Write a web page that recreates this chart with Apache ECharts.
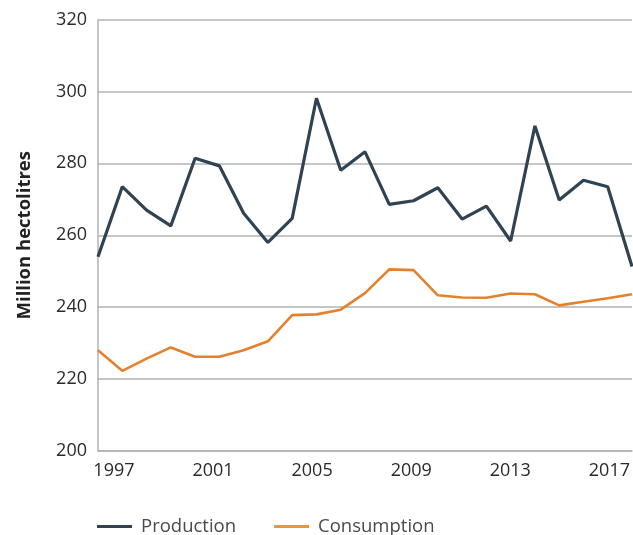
<!DOCTYPE html>
<html>
<head>
<meta charset="utf-8">
<title>Production and consumption</title>
<script src="https://cdn.jsdelivr.net/npm/echarts@6/dist/echarts.min.js"></script>
<style>
  html, body { margin: 0; padding: 0; background: #fff; }
  #chart { width: 633px; height: 535px; }
</style>
</head>
<body>
<div id="chart"></div>
<script>
// years of the data points (first point sits on the y axis)
const years = ['1995', '1996', '1997', '1998', '1999', '2000', '2001', '2002', '2003', '2004', '2005', '2006',
  '2007', '2008', '2009', '2010', '2011', '2012', '2013', '2014', '2015', '2016', '2017']

// million hectolitres
const production = [254, 273.5, 267, 262.6, 281.4, 279.3, 266.1, 258, 264.7, 298.1, 278.1, 283.2,
  268.6, 269.6, 273.2, 264.5, 268.1, 258.4, 290.4, 269.8, 275.3, 273.5, 251.3]
const consumption = [228, 222.3, 225.7, 228.8, 226.2, 226.2, 228, 230.5, 237.8, 238, 239.3, 243.9,
  250.5, 250.3, 243.3, 242.7, 242.6, 243.8, 243.6, 240.5, 241.5, 242.5, 243.6]

// tick labels as printed under the axis
const yearLabels = [1997, 2001, 2005, 2009, 2013, 2017]

const chart = echarts.init(document.getElementById('chart'))
const font = '"Open Sans", "Noto Sans", sans-serif'

chart.setOption({
  animation: false,
  textStyle: { fontFamily: font },
  grid: { left: 98, right: -1.4, top: 19.5, bottom: 84 },
  legend: {
    top: 512,
    left: 92,
    itemWidth: 35,
    itemHeight: 3,
    itemGap: 38,
    icon: 'rect',
    textStyle: { fontSize: 18.5, color: '#4a4a4a', fontFamily: font, padding: [0, 0, 0, 4] },
    data: ['Production', 'Consumption']
  },
  xAxis: [
    {
      type: 'category',
      data: years,
      boundaryGap: false,
      axisLine: { lineStyle: { color: '#b3b3b3', width: 1.5 } },
      axisTick: { show: false },
      axisLabel: { show: false }
    },
    {
      type: 'value',
      position: 'bottom',
      min: 1996.357,
      max: 2017.912,
      axisLine: { show: false },
      axisTick: { show: false },
      splitLine: { show: false },
      axisLabel: {
        customValues: yearLabels,
        formatter: v => String(v),
        fontSize: 18,
        color: '#2a2a2a',
        margin: 11
      }
    }
  ],
  yAxis: {
    type: 'value',
    min: 200,
    max: 320,
    interval: 20,
    name: 'Million hectolitres',
    nameLocation: 'middle',
    nameRotate: 90,
    nameGap: 64,
    nameTextStyle: { fontSize: 18.5, fontWeight: 'bold', color: '#222' },
    axisLine: { show: true, lineStyle: { color: '#b3b3b3', width: 1.5 } },
    axisTick: { show: false },
    axisLabel: { fontSize: 18, color: '#2a2a2a', margin: 11 },
    splitLine: { lineStyle: { color: '#b3b3b3', width: 1.5 } }
  },
  series: [
    {
      name: 'Production',
      type: 'line',
      data: production,
      showSymbol: false,
      lineStyle: { color: '#2f4353', width: 3.2 },
      itemStyle: { color: '#2f4353' }
    },
    {
      name: 'Consumption',
      type: 'line',
      data: consumption,
      showSymbol: false,
      lineStyle: { color: '#e5812b', width: 2.6 },
      itemStyle: { color: '#f5952b' }
    }
  ]
})
</script>
</body>
</html>
